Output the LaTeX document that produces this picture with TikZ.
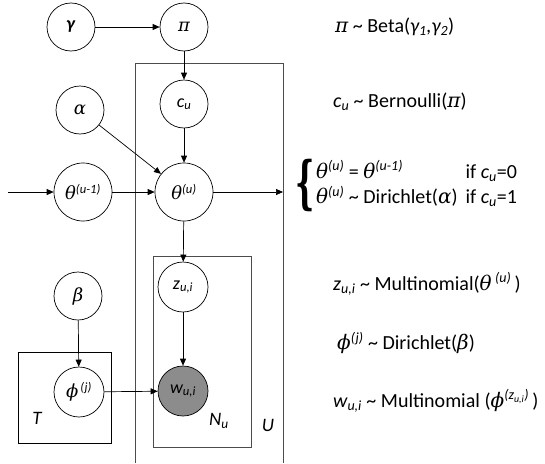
\documentclass[tikz,border=0pt]{standalone}
\usepackage{fontspec}
\setmainfont{Carlito}
\newfontfamily\gkfont{DejaVu Serif}
\newcommand\grk[1]{{\gkfont\itshape #1}}
\usetikzlibrary{arrows.meta}
\begin{document}
\begin{tikzpicture}[x=1pt,y=-1pt,
  var/.style={circle,draw,line width=0.7pt,minimum size=48pt,inner sep=0pt,fill=white,font=\fontsize{18}{18}\selectfont},
  bigvar/.style={var,minimum size=58pt},
  midvar/.style={var,minimum size=50pt},
  arr/.style={-{Triangle[length=7pt,width=6pt]},line width=0.7pt},
  plate/.style={draw=black!70,line width=0.8pt},
  lab/.style={inner sep=0pt,font=\fontsize{19}{19}\selectfont\itshape},
  eq/.style={anchor=west,inner sep=0pt,font=\fontsize{20}{21}\selectfont}]
\useasboundingbox (0,0) rectangle (545,463);
% plates
\draw[plate] (135,463) -- (135,63) -- (283,63) -- (283,463);
\draw[plate] (153,256) rectangle (251,447);
\draw[line width=0.8pt] (18,352) rectangle (111,443);
\node[lab] (Tl) at (37,418) {T};
\node[lab] (Nl) at (219,421) {N\textsubscript{u}};
\node[lab] (Ul) at (268,425) {U};
% nodes
\node[var] (gamma) at (71,27) {\textbf{\textit{γ}}};
\node[var] (pi) at (184,27) {\grk{π}};
\node[var] (cu) at (184,104) {\textit{c\textsubscript{u}}};
\node[var] (alpha) at (80,110) {\grk{α}};
\node[bigvar] (thprev) at (83,192) {\grk{θ}\textsuperscript{\textit{(u-1)}}};
\node[bigvar] (th) at (184,192) {\grk{θ}\textsuperscript{\textit{(u)}}};
\node[midvar] (z) at (183,287) {\textit{z\textsubscript{u,i}}};
\node[midvar,fill=black!45] (w) at (183,391) {\textit{w\textsubscript{u,i}}};
\node[var] (beta) at (78,296) {\grk{β}};
\node[midvar] (phi) at (79,392) {\grk{ϕ}\textsuperscript{\,\textit{(j)}}};
\coordinate (inL) at (8,192);
\coordinate (outR) at (283,192);
% edges
\draw[arr] (gamma) -- (pi);
\draw[arr] (pi) -- (cu);
\draw[arr] (cu) -- (th);
\draw[arr] (alpha) -- (th);
\draw[arr] (inL) -- (thprev);
\draw[arr] (thprev) -- (th);
\draw[arr] (th) -- (outR);
\draw[arr] (th) -- (z);
\draw[arr] (z) -- (w);
\draw[arr] (beta) -- (phi);
\draw[arr] (phi) -- (w);
% equations
\node[eq] (e1) at (335,27) {\grk{π} \textasciitilde\ Beta(\textit{γ\textsubscript{1},γ\textsubscript{2}})};
\node[eq] (e2) at (333,102) {\textit{c\textsubscript{u}} \textasciitilde\ Bernoulli(\grk{π})};
\node[inner sep=0pt,font=\fontsize{30}{30}\gkfont\bfseries\selectfont] (br) at (305,185) {\scalebox{1}[1.9]{\{}};
\node[eq,font=\fontsize{20}{25}\selectfont] (e3) at (316,186) {\begin{tabular}{@{}l@{\hspace{8pt}}l@{}}
\grk{θ}\textsuperscript{\textit{(u)}} = \grk{θ}\textsuperscript{\textit{(u-1)}} & if \textit{c\textsubscript{u}}=0\\
\grk{θ}\textsuperscript{\textit{(u)}} \textasciitilde\ Dirichlet(\grk{α}) & if \textit{c\textsubscript{u}}=1
\end{tabular}};
\node[eq] (e4) at (333,284) {\textit{z\textsubscript{u,i}} \textasciitilde\ Multinomial(\grk{θ}\,\textsuperscript{\textit{(u)}}\,)};
\node[eq] (e5) at (337,343) {\grk{ϕ}\textsuperscript{\textit{(j)}} \textasciitilde\ Dirichlet(\grk{β})};
\node[eq] (e6) at (333,401) {\textit{w\textsubscript{u,i}} \textasciitilde\ Multinomial (\grk{ϕ}\textsuperscript{\textit{(z\textsubscript{u,i})}}\,)};
\end{tikzpicture}
\end{document}
